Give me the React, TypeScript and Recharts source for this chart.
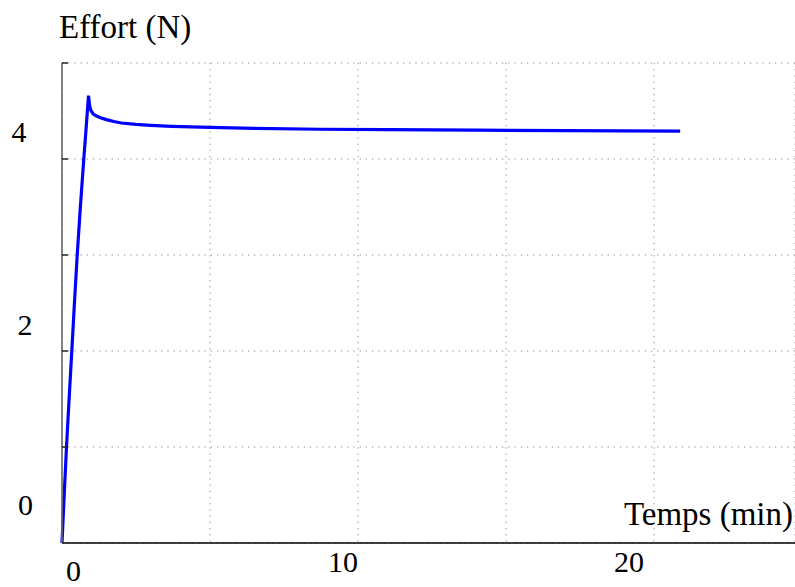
import { LineChart, Line, XAxis, YAxis, CartesianGrid, Label } from "recharts";

// temps (min) et effort (N)
const TIMES = [
  0, 0.074, 0.152, 0.24, 0.331, 0.42, 0.514, 0.62, 0.736, 0.81, 0.895, 0.93, 0.97, 1.05, 1.15, 1.3, 1.5, 1.75, 2.0,
  2.5, 3.0, 3.7, 5, 6.5, 8.7, 11, 14, 17, 20.88,
];
const EFFORT = [
  0, 0.5, 1, 1.5, 2, 2.5, 3, 3.5, 4, 4.3, 4.66, 4.56, 4.51, 4.47, 4.45, 4.43, 4.41, 4.39, 4.375, 4.36, 4.35, 4.34,
  4.33, 4.32, 4.31, 4.305, 4.3, 4.295, 4.29,
];

const X_TICKS = [0, 5, 10, 15, 20];
const Y_TICKS = [0, 1, 2, 3, 4, 5];
const X_LABELS = ["0", "", "10", "", "20"];
const Y_LABELS = ["0", "", "2", "", "4", ""];

const X_MAX = 24.76;
const FONT = "'Liberation Serif', 'Times New Roman', serif";

const data = TIMES.map((t, i) => ({ t, f: EFFORT[i] }));

// petits décalages des étiquettes, comme sur la figure d'origine
const X_LABEL_SHIFT: Record<string, { dx: number; dy: number; anchor: "start" | "middle" | "end" }> = {
  "0": { dx: 11.5, dy: 38, anchor: "middle" },
  "10": { dx: 0, dy: 29, anchor: "end" },
  "20": { dx: -10, dy: 29, anchor: "end" },
};
const Y_LABEL_SHIFT: Record<string, { dx: number; dy: number }> = {
  "0": { dx: -36.5, dy: -28 },
  "2": { dx: -37, dy: -16 },
  "4": { dx: -43, dy: -17 },
};

function XTick(props: any) {
  const { x, y, index } = props;
  const lbl = X_LABELS[index];
  if (!lbl) return <g />;
  const s = X_LABEL_SHIFT[lbl];
  return (
    <text x={x + s.dx} y={y + s.dy} textAnchor={s.anchor} fontFamily={FONT} fontSize={30} fill="#000">
      {lbl}
    </text>
  );
}

function YTick(props: any) {
  const { x, y, index } = props;
  const lbl = Y_LABELS[index];
  const s = lbl ? Y_LABEL_SHIFT[lbl] : null;
  return (
    <g>
      {index > 0 && <line x1={x} x2={x + 6} y1={y} y2={y} stroke="#222" strokeWidth={1.5} />}
      {s && (
        <text x={x + s.dx} y={y + s.dy} textAnchor="middle" fontFamily={FONT} fontSize={30} fill="#000">
          {lbl}
        </text>
      )}
    </g>
  );
}

export default function App() {
  return (
    <div style={{ position: "absolute", left: 0, top: 0, width: 795, height: 587, background: "#fff" }}>
      <LineChart width={795} height={587} data={data} margin={{ top: 63, right: 0, bottom: 0, left: 0 }}>
        <CartesianGrid stroke="#888" strokeDasharray="1.2 5" />
        <XAxis
          type="number"
          dataKey="t"
          domain={[0, X_MAX]}
          ticks={X_TICKS}
          height={44}
          tickSize={0}
          tickMargin={0}
          tickLine={false}
          axisLine={{ stroke: "#000", strokeWidth: 1.6 }}
          tick={<XTick />}
          interval={0}
        >
          <Label
            content={(p: any) => (
              <text
                x={p.viewBox.x + p.viewBox.width - 2}
                y={p.viewBox.y - 18}
                textAnchor="end"
                fontFamily={FONT}
                fontSize={33}
                fill="#000"
              >
                Temps (min)
              </text>
            )}
          />
        </XAxis>
        <YAxis
          type="number"
          domain={[0, 5]}
          ticks={Y_TICKS}
          width={62}
          tickSize={0}
          tickMargin={0}
          tickLine={false}
          axisLine={{ stroke: "#666", strokeWidth: 1.6 }}
          tick={<YTick />}
          interval={0}
        >
          <Label
            content={(p: any) => (
              <text
                x={p.viewBox.x + p.viewBox.width - 3}
                y={p.viewBox.y - 25}
                textAnchor="start"
                fontFamily={FONT}
                fontSize={33}
                fill="#000"
              >
                Effort (N)
              </text>
            )}
          />
        </YAxis>
        <Line
          type="linear"
          dataKey="f"
          stroke="#0000ff"
          strokeWidth={3.2}
          dot={false}
          isAnimationActive={false}
        />
      </LineChart>
    </div>
  );
}
